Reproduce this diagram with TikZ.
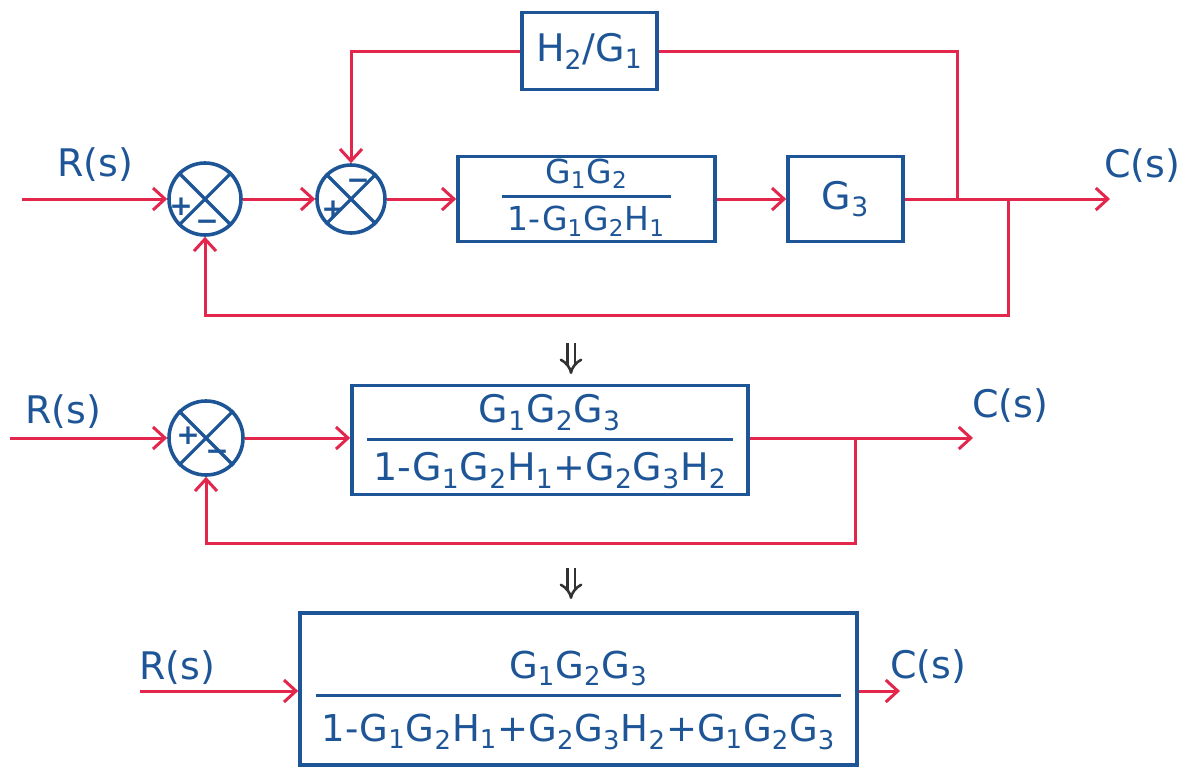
\documentclass[tikz,border=0pt]{standalone}
\usepackage{fontspec}
\setmainfont{DejaVu Sans}
\usetikzlibrary{arrows.meta,calc}
\definecolor{wirec}{RGB}{226,38,76}
\definecolor{inkc}{RGB}{30,85,150}
\definecolor{darkc}{RGB}{50,50,50}
\newcommand\lo[1]{\textsubscript{#1}}
% #1 top strut, #2 denominator strut, #3 numerator, #4 denominator
\newcommand\frc[4]{{\renewcommand\arraystretch{1.05}\setlength\arrayrulewidth{1.4pt}\begin{tabular}{@{\hspace{3pt}}c@{\hspace{3pt}}}\rule{0pt}{#1}#3\\[1pt]\hline\rule{0pt}{#2}#4\end{tabular}}}
\begin{document}
\begin{tikzpicture}[x=0.5pt,y=-0.5pt,
  wire/.style={draw=wirec,line width=1.5pt},
  sig/.style={wire,-{Straight Barb[length=6pt,width=11pt]}},
  blk/.style={draw=inkc,line width=1.8pt,text=inkc,rectangle,inner sep=0pt},
  sumj/.style={draw=inkc,line width=1.8pt,circle,inner sep=0pt},
  sgn/.style={text=inkc,font=\fontsize{14}{15}\selectfont\bfseries,inner sep=0pt},
  lbl/.style={text=inkc,font=\fontsize{19}{22}\selectfont,inner sep=0pt},
  darr/.style={draw=darkc,double,double distance=2.5pt,line width=1.3pt,-{Implies}}
]
\useasboundingbox (0,0) rectangle (1203,767);

% ---------- row 1 ----------
\node[sumj,minimum size=36pt] (s1) at (205,199) {};
\node[sumj,minimum size=34pt] (s2) at (351,199) {};
\node[blk,minimum width=128.5pt,minimum height=42.5pt,font=\fontsize{16.5}{16}\selectfont] (b1) at (586.5,199)
  {\frc{13pt}{1.0em}{G\lo1G\lo2}{1-G\lo1G\lo2H\lo1}};
\node[blk,minimum width=57.5pt,minimum height=42.5pt,font=\fontsize{19}{22}\selectfont] (g3) at (845.5,199) {G\lo3};
\node[blk,minimum width=67.5pt,minimum height=38.5pt,font=\fontsize{19}{22}\selectfont] (h2) at (589.5,51) {H\lo2/G\lo1};

\foreach \s in {s1,s2} {\draw[inkc,line width=1.6pt] (\s.45) -- (\s.225) (\s.135) -- (\s.315);}
\node[sgn] (p1) at ($(s1)+(-24,8)$) {+};
\node[sgn] (m1) at ($(s1)+(2,26)$) {−};
\node[sgn] (p2) at ($(s2)+(-18,11)$) {+};
\node[sgn] (m2) at ($(s2)+(7,-15)$) {−};

\coordinate (in1) at (22,199);
\coordinate (out1) at (1110,199);
\coordinate (br1) at (957,199);
\coordinate (br2) at (1008,199);
\draw[sig] (in1) -- (s1.west);
\draw[sig] (s1.east) -- (s2.west);
\draw[sig] (s2.east) -- (b1.west);
\draw[sig] (b1.east) -- (g3.west);
\draw[sig] (g3.east) -- (out1);
\draw[wire] (br1) |- (h2.east);
\draw[sig] (h2.west) -| (s2.north);
\draw[sig] (br2) -- ++(0,116) -| (s1.south);

\node[lbl] (r1) at (95,165) {R(s)};
\node[lbl] (c1) at (1142,166) {C(s)};

% ---------- row 2 ----------
\node[sumj,minimum size=37pt] (s3) at (206,438) {};
\draw[inkc,line width=1.6pt] (s3.45) -- (s3.225) (s3.135) -- (s3.315);
\node[sgn] (p3) at ($(s3)+(-18,-2)$) {+};
\node[sgn] (m3) at ($(s3)+(11,17)$) {−};
\node[blk,minimum width=198pt,minimum height=54.5pt,font=\fontsize{19}{21}\selectfont] (b2) at (550,440)
  {\frc{18.5pt}{1.05em}{G\lo1G\lo2G\lo3}{1-G\lo1G\lo2H\lo1+G\lo2G\lo3H\lo2}};
\coordinate (in2) at (10,438);
\coordinate (out2) at (973,438);
\coordinate (br3) at (855,438);
\draw[sig] (in2) -- (s3.west);
\draw[sig] (s3.east) -- (s3.east -| b2.west);
\draw[sig] (s3.east -| b2.east) -- (out2);
\draw[sig] (br3) -- ++(0,105) -| (s3.south);
\node[lbl] (r2) at (63,412) {R(s)};
\node[lbl] (c2) at (1010,406) {C(s)};

% ---------- row 3 ----------
\node[blk,minimum width=278.5pt,minimum height=76pt,font=\fontsize{18.5}{22}\selectfont] (b3) at (578.5,689)
  {\frc{28pt}{\dimexpr 1.05em+3pt\relax}{G\lo1G\lo2G\lo3}{1-G\lo1G\lo2H\lo1+G\lo2G\lo3H\lo2+G\lo1G\lo2G\lo3}};
\coordinate (in3) at (140,691);
\coordinate (out3) at (900,691);
\draw[sig] (in3) -- (in3 -| b3.west);
\draw[sig] (in3 -| b3.east) -- (out3);
\node[lbl] (r3) at (177,668) {R(s)};
\node[lbl] (c3) at (928,667) {C(s)};

% ---------- reduction arrows ----------
\coordinate (d1a) at (571,343);
\coordinate (d1b) at (571,374);
\coordinate (d2a) at (571,568);
\coordinate (d2b) at (571,599);
\draw[darr] (d1a) -- (d1b);
\draw[darr] (d2a) -- (d2b);
\end{tikzpicture}
\end{document}
